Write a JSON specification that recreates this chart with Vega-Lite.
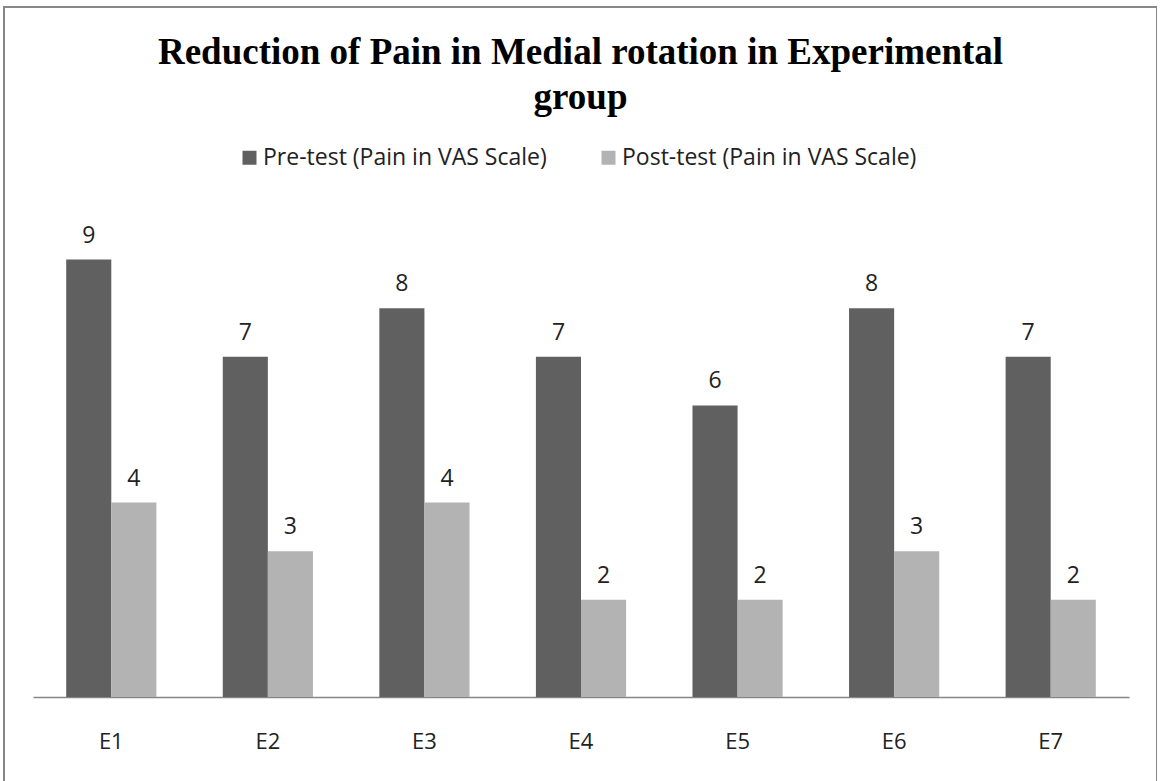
{
  "$schema": "https://vega.github.io/schema/vega-lite/v6.json",
  "width": 1153,
  "height": 776,
  "autosize": "none",
  "padding": {"left": 4, "top": 7, "right": 0, "bottom": 0},
  "background": "white",
  "config": {"view": {"stroke": "#878787", "strokeWidth": 2}},
  "title": {
    "text": ["Reduction of Pain in Medial rotation  in Experimental", "group"],
    "font": "Liberation Serif",
    "fontWeight": "bold",
    "fontSize": 37,
    "color": "black",
    "anchor": "middle",
    "orient": "top",
    "offset": -110,
    "lineHeight": 45
  },
  "data": {
    "values": [
      {"subject": "E1", "test": "Pre-test (Pain in VAS Scale)", "value": 9},
      {"subject": "E1", "test": "Post-test (Pain in VAS Scale)", "value": 4},
      {"subject": "E2", "test": "Pre-test (Pain in VAS Scale)", "value": 7},
      {"subject": "E2", "test": "Post-test (Pain in VAS Scale)", "value": 3},
      {"subject": "E3", "test": "Pre-test (Pain in VAS Scale)", "value": 8},
      {"subject": "E3", "test": "Post-test (Pain in VAS Scale)", "value": 4},
      {"subject": "E4", "test": "Pre-test (Pain in VAS Scale)", "value": 7},
      {"subject": "E4", "test": "Post-test (Pain in VAS Scale)", "value": 2},
      {"subject": "E5", "test": "Pre-test (Pain in VAS Scale)", "value": 6},
      {"subject": "E5", "test": "Post-test (Pain in VAS Scale)", "value": 2},
      {"subject": "E6", "test": "Pre-test (Pain in VAS Scale)", "value": 8},
      {"subject": "E6", "test": "Post-test (Pain in VAS Scale)", "value": 3},
      {"subject": "E7", "test": "Pre-test (Pain in VAS Scale)", "value": 7},
      {"subject": "E7", "test": "Post-test (Pain in VAS Scale)", "value": 2}
    ]
  },
  "encoding": {
    "x": {
      "field": "subject",
      "type": "nominal",
      "sort": null,
      "scale": {"range": [29, 1125], "paddingInner": 0.424, "paddingOuter": 0.212},
      "axis": {
        "orient": "bottom",
        "offset": -86,
        "title": null,
        "ticks": false,
        "grid": false,
        "domainColor": "#868686",
        "domainWidth": 1.5,
        "labelAngle": 0,
        "labelFont": "Open Sans",
        "labelFontSize": 22,
        "labelColor": "#222222",
        "labelPadding": 34
      }
    },
    "xOffset": {
      "field": "test",
      "type": "nominal",
      "sort": ["Pre-test (Pain in VAS Scale)", "Post-test (Pain in VAS Scale)"],
      "scale": {"paddingInner": 0, "paddingOuter": 0}
    },
    "y": {
      "field": "value",
      "type": "quantitative",
      "scale": {"domain": [0, 10], "range": [690, 204], "nice": false, "zero": true},
      "axis": null
    }
  },
  "layer": [
    {
      "mark": {"type": "bar"},
      "encoding": {
        "color": {
          "field": "test",
          "type": "nominal",
          "sort": ["Pre-test (Pain in VAS Scale)", "Post-test (Pain in VAS Scale)"],
          "scale": {
            "domain": ["Pre-test (Pain in VAS Scale)", "Post-test (Pain in VAS Scale)"],
            "range": ["#606060", "#b3b3b3"]
          },
          "legend": {
            "orient": "none",
            "legendX": 234,
            "legendY": 139,
            "direction": "horizontal",
            "title": null,
            "symbolType": "square",
            "symbolSize": 196,
            "symbolStrokeWidth": 0,
            "labelFont": "Open Sans",
            "labelFontSize": 23,
            "labelColor": "#222222",
            "labelLimit": 600,
            "labelOffset": 2,
            "columnPadding": 50
          }
        }
      }
    },
    {
      "mark": {
        "type": "text",
        "baseline": "bottom",
        "dy": -12,
        "font": "Open Sans",
        "fontSize": 23,
        "color": "#222222"
      },
      "encoding": {
        "text": {"field": "value", "type": "quantitative"}
      }
    }
  ]
}
